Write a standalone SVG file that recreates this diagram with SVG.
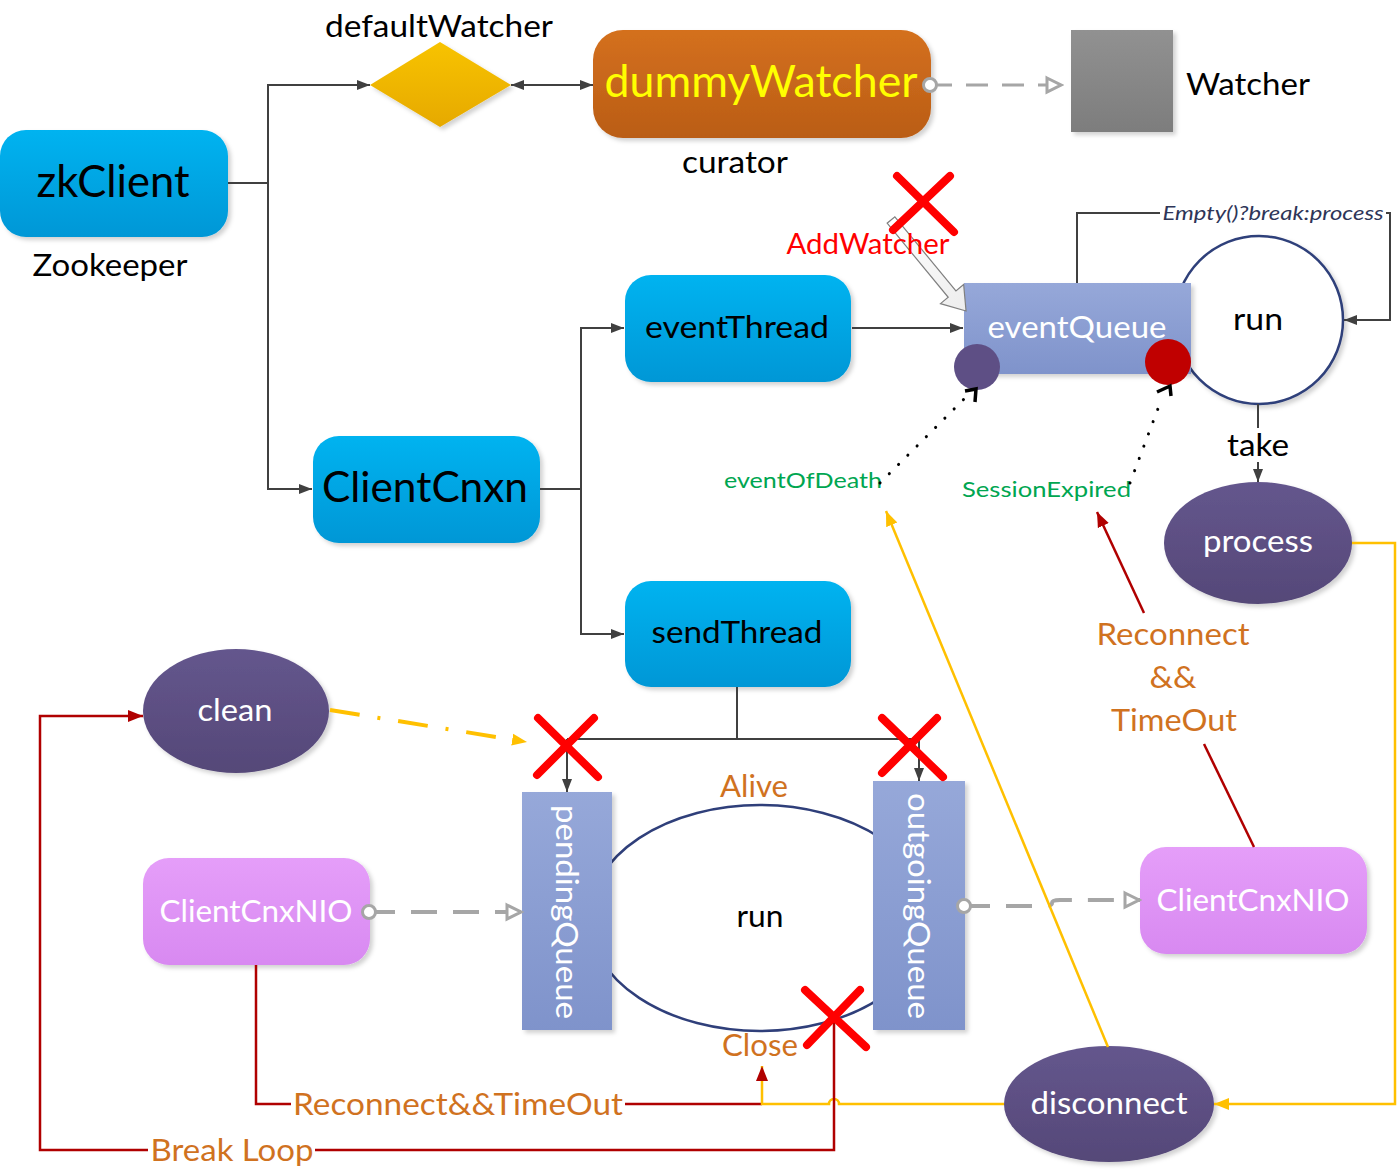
<svg xmlns="http://www.w3.org/2000/svg" width="1397" height="1173" viewBox="0 0 1397 1173">
<defs>
<linearGradient id="gBlue" x1="0" y1="0" x2="0" y2="1"><stop offset="0" stop-color="#00B3F0"/><stop offset="1" stop-color="#0097D6"/></linearGradient>
<linearGradient id="gOrange" x1="0" y1="0" x2="0" y2="1"><stop offset="0" stop-color="#D4701E"/><stop offset="1" stop-color="#BA5D16"/></linearGradient>
<linearGradient id="gGold" x1="0" y1="0" x2="0" y2="1"><stop offset="0" stop-color="#F8C300"/><stop offset="1" stop-color="#E6A900"/></linearGradient>
<linearGradient id="gPurple" x1="0" y1="0" x2="0" y2="1"><stop offset="0" stop-color="#64568D"/><stop offset="1" stop-color="#554878"/></linearGradient>
<linearGradient id="gQueue" x1="0" y1="0" x2="0" y2="1"><stop offset="0" stop-color="#96A8D9"/><stop offset="1" stop-color="#7F93CB"/></linearGradient>
<linearGradient id="gLilac" x1="0" y1="0" x2="0" y2="1"><stop offset="0" stop-color="#E59EF9"/><stop offset="1" stop-color="#D889F1"/></linearGradient>
<linearGradient id="gGray" x1="0" y1="0" x2="0" y2="1"><stop offset="0" stop-color="#919191"/><stop offset="1" stop-color="#7D7D7D"/></linearGradient>
<linearGradient id="gHollow" x1="0" y1="0" x2="1" y2="0"><stop offset="0" stop-color="#FFFFFF"/><stop offset="1" stop-color="#EDEDED"/></linearGradient>
<filter id="sh" x="-10%" y="-10%" width="125%" height="130%"><feDropShadow dx="3" dy="3" stdDeviation="2" flood-color="#000" flood-opacity="0.18"/></filter>
<marker id="aDark" markerUnits="userSpaceOnUse" markerWidth="14" markerHeight="12" refX="13" refY="6" orient="auto-start-reverse"><path d="M0,1 L13,6 L0,11 z" fill="#404040"/></marker>
<marker id="aYellow" markerUnits="userSpaceOnUse" markerWidth="16" markerHeight="14" refX="15" refY="7" orient="auto"><path d="M0,1 L15,7 L0,13 z" fill="#FFC000"/></marker>
<marker id="aRed" markerUnits="userSpaceOnUse" markerWidth="16" markerHeight="14" refX="15" refY="7" orient="auto"><path d="M0,1 L15,7 L0,13 z" fill="#B00000"/></marker>
<marker id="aOpen" markerUnits="userSpaceOnUse" markerWidth="20" markerHeight="20" refX="18" refY="10" orient="auto"><path d="M3,3 L17,10 L3,17 z" fill="#FFFFFF" stroke="#A6A6A6" stroke-width="3"/></marker>
<marker id="cStart" markerUnits="userSpaceOnUse" markerWidth="18" markerHeight="18" refX="9" refY="9" orient="auto"><circle cx="9" cy="9" r="6.5" fill="#FFFFFF" stroke="#A6A6A6" stroke-width="3"/></marker>
<style>
text{font-family:Lato,"Liberation Sans",sans-serif;}
.c{text-anchor:middle;}
.blk{fill:#000;}
.wht{fill:#FFFFFF;}
.org{fill:#D0721F;}
.grn{fill:#00A651;}
.ln{fill:none;stroke:#404040;stroke-width:2;}
.gd{fill:none;stroke:#A6A6A6;stroke-width:4;stroke-dasharray:26 16;}
.yl{fill:none;stroke:#FFC000;stroke-width:2.5;}
.rd{fill:none;stroke:#B00000;stroke-width:2.5;}
.dot{fill:none;stroke:#000;stroke-width:3;stroke-linecap:round;stroke-dasharray:0.1 13;}
.x{stroke:#FF0000;stroke-width:8;stroke-linecap:round;fill:none;}
.node{filter:url(#sh);}
</style>
</defs>
<rect x="0" y="0" width="1397" height="1173" fill="#FFFFFF"/>

<g id="zkClient">
<rect class="node" x="0" y="130" width="228" height="107" rx="26" fill="url(#gBlue)"/>
<text class="c blk" x="113" y="197" font-size="44" textLength="153" lengthAdjust="spacingAndGlyphs">zkClient</text>
<text class="c blk" x="110" y="276" font-size="30" textLength="155" lengthAdjust="spacingAndGlyphs">Zookeeper</text>
</g>

<g id="defaultWatcher">
<polygon class="node" points="370,85 440,42 511,85 440,127" fill="url(#gGold)"/>
<text class="c blk" x="439" y="37" font-size="30" textLength="228" lengthAdjust="spacingAndGlyphs">defaultWatcher</text>
</g>

<g id="dummyWatcher">
<rect class="node" x="593" y="30" width="338" height="108" rx="30" fill="url(#gOrange)"/>
<text class="c" fill="#FFFF00" x="761" y="97" font-size="44" textLength="313" lengthAdjust="spacingAndGlyphs">dummyWatcher</text>
<text class="c blk" x="735" y="173" font-size="30" textLength="106" lengthAdjust="spacingAndGlyphs">curator</text>
</g>

<g id="Watcher">
<rect class="node" x="1071" y="30" width="102" height="102" fill="url(#gGray)"/>
<text class="blk" x="1186" y="95" font-size="30" textLength="124" lengthAdjust="spacingAndGlyphs">Watcher</text>
</g>

<g id="ClientCnxn">
<rect class="node" x="313" y="436" width="227" height="107" rx="26" fill="url(#gBlue)"/>
<text class="c blk" x="425" y="502" font-size="42" textLength="206" lengthAdjust="spacingAndGlyphs">ClientCnxn</text>
</g>

<g id="eventThread">
<rect class="node" x="625" y="275" width="226" height="107" rx="26" fill="url(#gBlue)"/>
<text class="c blk" x="737" y="338" font-size="31" textLength="184" lengthAdjust="spacingAndGlyphs">eventThread</text>
</g>

<g id="sendThread">
<rect class="node" x="625" y="581" width="226" height="106" rx="26" fill="url(#gBlue)"/>
<text class="c blk" x="737" y="643" font-size="31" textLength="171" lengthAdjust="spacingAndGlyphs">sendThread</text>
</g>

<g id="runEvent">
<circle class="node" cx="1259" cy="320" r="84" fill="#FFFFFF" stroke="#2F3F7A" stroke-width="2.5"/>
<text class="c blk" x="1258" y="330" font-size="30" textLength="50" lengthAdjust="spacingAndGlyphs">run</text>
</g>

<g id="eventQueue">
<rect class="node" x="964" y="283" width="227" height="91" fill="url(#gQueue)"/>
<text class="c wht" x="1077" y="338" font-size="31" textLength="179" lengthAdjust="spacingAndGlyphs">eventQueue</text>
<circle cx="977" cy="367" r="23" fill="#5E4F85"/>
<circle cx="1168" cy="362" r="23" fill="#C00000"/>
</g>

<g id="process">
<ellipse class="node" cx="1258" cy="543" rx="94" ry="61" fill="url(#gPurple)"/>
<text class="c wht" x="1258" y="552" font-size="30" textLength="110" lengthAdjust="spacingAndGlyphs">process</text>
</g>

<g id="eventOfDeath">
<text class="grn" x="724" y="488" font-size="22" textLength="158" lengthAdjust="spacingAndGlyphs">eventOfDeath</text>
</g>

<g id="sessionExpired">
<text class="grn" x="962" y="497" font-size="22" textLength="169" lengthAdjust="spacingAndGlyphs">SessionExpired</text>
</g>

<g id="reconnectTimeout">
<text class="c org" x="1173" y="645" font-size="31" textLength="153" lengthAdjust="spacingAndGlyphs">Reconnect</text>
<text class="c org" x="1173" y="688" font-size="31" textLength="47" lengthAdjust="spacingAndGlyphs">&amp;&amp;</text>
<text class="c org" x="1174" y="731" font-size="31" textLength="126" lengthAdjust="spacingAndGlyphs">TimeOut</text>
</g>

<g id="clean">
<ellipse class="node" cx="236" cy="711" rx="93" ry="62" fill="url(#gPurple)"/>
<text class="c wht" x="235" y="721" font-size="30" textLength="75" lengthAdjust="spacingAndGlyphs">clean</text>
</g>

<g id="runSend">
<ellipse cx="760" cy="918" rx="171" ry="113" fill="#FFFFFF" stroke="#2F3F7A" stroke-width="2.5"/>
<text class="c blk" x="760" y="927" font-size="30" textLength="47" lengthAdjust="spacingAndGlyphs">run</text>
<text class="c org" x="754" y="797" font-size="30" textLength="68" lengthAdjust="spacingAndGlyphs">Alive</text>
<text class="c org" x="760" y="1056" font-size="30" textLength="76" lengthAdjust="spacingAndGlyphs">Close</text>
</g>

<g id="pendingQueue">
<rect class="node" x="522" y="792" width="90" height="238" fill="url(#gQueue)"/>
<text class="c wht" transform="translate(556,912) rotate(90)" x="0" y="0" font-size="31" textLength="214" lengthAdjust="spacingAndGlyphs">pendingQueue</text>
</g>

<g id="outgoingQueue">
<rect class="node" x="873" y="781" width="92" height="249" fill="url(#gQueue)"/>
<text class="c wht" transform="translate(908,906) rotate(90)" x="0" y="0" font-size="31" textLength="226" lengthAdjust="spacingAndGlyphs">outgoingQueue</text>
</g>

<g id="ClientCnxNIO-left">
<rect class="node" x="143" y="858" width="227" height="107" rx="26" fill="url(#gLilac)"/>
<text class="c wht" x="256" y="922" font-size="31" textLength="193" lengthAdjust="spacingAndGlyphs">ClientCnxNIO</text>
</g>

<g id="ClientCnxNIO-right">
<rect class="node" x="1140" y="847" width="227" height="107" rx="26" fill="url(#gLilac)"/>
<text class="c wht" x="1253" y="911" font-size="31" textLength="193" lengthAdjust="spacingAndGlyphs">ClientCnxNIO</text>
</g>

<g id="disconnect">
<ellipse class="node" cx="1109" cy="1104" rx="105" ry="58" fill="url(#gPurple)"/>
<text class="c wht" x="1109" y="1114" font-size="31" textLength="157" lengthAdjust="spacingAndGlyphs">disconnect</text>
</g>

<g id="connectors">
<path class="ln" d="M228,183 H268 V85 H370" marker-end="url(#aDark)"/>
<path class="ln" d="M268,183 V489 H312" marker-end="url(#aDark)"/>
<path class="ln" d="M511,85 H593" marker-start="url(#aDark)" marker-end="url(#aDark)"/>
<path class="gd" style="stroke-width:3;stroke-dasharray:22 14" d="M930,85 H1062" marker-start="url(#cStart)" marker-end="url(#aOpen)"/>
<path class="ln" d="M540,489 H581 V328 H624" marker-end="url(#aDark)"/>
<path class="ln" d="M581,489 V634 H624" marker-end="url(#aDark)"/>
<path class="ln" d="M852,328 H963" marker-end="url(#aDark)"/>
<path class="ln" d="M1077,283 V213 H1390 V320 H1344" marker-end="url(#aDark)"/>
<path class="ln" d="M1258,404 V482" marker-end="url(#aDark)"/>
<path class="ln" d="M737,687 V739 M567,739 H919"/>
<path class="ln" d="M567,739 V792" marker-end="url(#aDark)"/>
<path class="ln" d="M919,739 V781" marker-end="url(#aDark)"/>
<path fill="none" stroke="#FFC000" stroke-width="4" stroke-dasharray="30 18 3 18" d="M330,710 L527,742" marker-end="url(#aYellow)"/>
<path class="gd" d="M369,912 H522" marker-start="url(#cStart)" marker-end="url(#aOpen)"/>
<path class="gd" d="M964,906 H1044 Q1052,906 1052,903 Q1052,900 1060,900 H1140" marker-start="url(#cStart)" marker-end="url(#aOpen)"/>
<path class="yl" d="M1352,543 H1395 V1104 H1214" marker-end="url(#aYellow)"/>
<path class="yl" d="M1108,1047 L886,511" marker-end="url(#aYellow)"/>
<path class="rd" d="M256,965 V1104 H762"/>
<path class="yl" d="M1004,1104 H839 A5,5 0 0 0 829,1104 H762 V1066" marker-end="url(#aRed)"/>
<path class="rd" d="M834,1018 V1150 H40 V716 H143" marker-end="url(#aRed)"/>
<path class="rd" d="M1144,613 L1097,512" marker-end="url(#aRed)"/>
<path class="rd" d="M1254,847 L1204,744"/>
<path class="dot" d="M880,483 L968,395"/>
<path d="M965,391 L976,389 L975,402" fill="none" stroke="#000" stroke-width="3.5"/>
<path class="dot" d="M1130,483 L1162,398"/>
<path d="M1157,392 L1170,386 L1171,396" fill="none" stroke="#000" stroke-width="3.5"/>
<polygon points="0,-5 96,-5 96,-15 118,0 96,15 96,5 0,5" transform="translate(891,220) rotate(50.5)" fill="url(#gHollow)" stroke="#808080" stroke-width="1.2"/>
</g>

<g id="loopLabel">
<rect x="1160" y="202" width="226" height="22" fill="#FFFFFF"/>
<text x="1273" y="220" class="c" fill="#2E3558" font-size="19" font-style="italic" textLength="221" lengthAdjust="spacingAndGlyphs">Empty()?break:process</text>
</g>

<g id="takeLabel">
<rect x="1224" y="428" width="68" height="34" fill="#FFFFFF"/>
<text class="c blk" x="1258" y="456" font-size="30" textLength="62" lengthAdjust="spacingAndGlyphs">take</text>
</g>

<g id="addWatcher">
<text class="c" fill="#FF0000" x="868" y="254" font-size="28" textLength="163" lengthAdjust="spacingAndGlyphs">AddWatcher</text>
<path class="x" d="M897,176 L954,232 M950,176 L893,230"/>
</g>

<g id="bottomLabels">
<rect x="291" y="1088" width="334" height="32" fill="#FFFFFF"/>
<text class="c org" x="458" y="1115" font-size="30" textLength="330" lengthAdjust="spacingAndGlyphs">Reconnect&amp;&amp;TimeOut</text>
<rect x="148" y="1134" width="167" height="34" fill="#FFFFFF"/>
<text class="c org" x="232" y="1161" font-size="30" textLength="163" lengthAdjust="spacingAndGlyphs">Break Loop</text>
</g>

<g id="crosses">
<path class="x" d="M538,718 L598,777 M594,718 L537,775"/>
<path class="x" d="M882,718 L943,777 M937,718 L882,773"/>
<path class="x" d="M805,990 L866,1047 M860,990 L807,1045"/>
</g>
</svg>
